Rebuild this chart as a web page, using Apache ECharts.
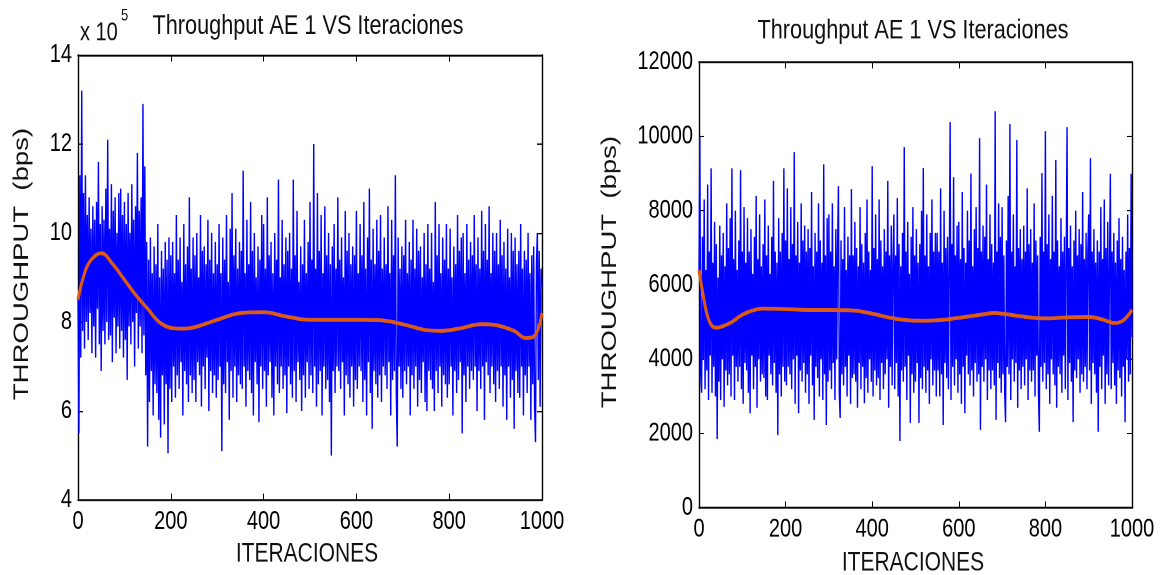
<!DOCTYPE html>
<html>
<head>
<meta charset="utf-8">
<script src="https://cdn.jsdelivr.net/npm/echarts@6/dist/echarts.min.js"></script>
<style>
  html, body { margin: 0; padding: 0; background: #fff; width: 1160px; height: 575px; overflow: hidden; position: relative; }
  /* the figure is laid out on a shorter canvas and stretched vertically */
  #wrap { position: absolute; left: 0; top: 0; width: 1160px; height: 449px; transform: scaleY(1.2806); transform-origin: 0 0; }
</style>
</head>
<body>
<div id="wrap"></div>
<script>
// Sampling step of the throughput traces (iterations between samples)
const STEP = 2;

// Left panel: throughput in units of 1e5 bps, 25 samples (50 iterations) per row
const throughputL = [
  8.5, 5.5, 11.3, 7.2, 13.2, 7.8, 10.9, 7.4, 11.3, 8.0, 10.4, 7.6, 10.8, 8.2, 10.1, 7.3, 10.6, 7.9, 10.3, 7.2, 10.7, 8.3, 11.6, 7.5, 10.2,
  6.9, 10.6, 7.8, 10.3, 7.5, 11.0, 8.0, 12.1, 7.6, 10.1, 7.7, 11.1, 7.1, 10.5, 8.1, 10.8, 7.3, 10.0, 7.9, 10.9, 7.4, 11.0, 7.8, 10.4, 7.2,
  10.7, 7.6, 10.2, 6.7, 10.9, 7.9, 10.0, 7.5, 11.1, 8.0, 10.3, 7.0, 10.6, 8.2, 11.8, 7.4, 10.5, 7.9, 10.8, 7.3, 12.9, 7.7, 11.5, 6.8, 9.8,
  5.2, 9.4, 6.2, 9.9, 6.9, 9.1, 5.9, 9.7, 6.6, 9.3, 6.4, 10.2, 5.8, 9.0, 5.4, 9.6, 6.8, 9.2, 5.7, 9.8, 6.6, 9.4, 5.05, 9.9, 6.5,
  9.5, 6.2, 9.8, 7.0, 9.1, 6.3, 10.4, 6.8, 9.4, 6.5, 9.9, 7.1, 8.9, 5.9, 10.2, 6.9, 9.3, 6.6, 9.7, 6.2, 10.8, 6.8, 9.2, 6.4, 9.9,
  6.7, 9.5, 6.2, 10.0, 7.1, 9.0, 6.8, 10.4, 6.1, 9.6, 7.0, 9.7, 6.5, 9.3, 7.2, 10.3, 6.0, 9.4, 6.9, 10.0, 6.4, 9.1, 6.8, 9.8, 6.3,
  9.3, 6.7, 10.2, 7.0, 9.1, 5.1, 9.9, 6.6, 9.4, 6.4, 10.4, 7.1, 8.9, 5.8, 10.1, 6.9, 10.9, 6.3, 9.5, 7.0, 10.1, 6.2, 9.2, 6.8, 9.8,
  6.6, 9.6, 6.5, 11.4, 7.0, 9.1, 6.1, 10.3, 6.9, 9.3, 6.7, 10.7, 6.4, 9.6, 5.9, 10.0, 7.1, 9.0, 6.6, 9.7, 5.75, 9.4, 7.0, 10.4, 6.5,
  10.2, 6.9, 9.2, 6.1, 10.8, 6.8, 9.5, 7.1, 9.8, 6.3, 9.1, 5.9, 10.0, 7.0, 9.4, 6.6, 11.2, 6.4, 9.0, 7.0, 10.3, 6.5, 9.3, 6.8, 9.9,
  5.95, 9.6, 7.0, 10.0, 6.6, 9.2, 6.3, 11.2, 6.9, 9.5, 6.2, 10.5, 7.1, 8.9, 6.7, 9.7, 6.0, 9.3, 6.8, 10.3, 6.3, 9.1, 7.1, 9.8, 6.5,
  10.7, 6.8, 9.4, 6.4, 12.0, 7.0, 9.2, 6.1, 10.9, 6.6, 9.6, 6.9, 10.4, 5.9, 9.1, 7.0, 10.6, 6.5, 9.5, 6.7, 10.0, 6.2, 9.3, 5.0, 9.7,
  6.9, 10.2, 6.4, 9.2, 7.0, 10.8, 6.9, 9.4, 6.5, 9.9, 7.1, 9.0, 5.9, 10.5, 6.8, 9.6, 6.6, 10.0, 6.3, 9.3, 7.0, 9.7, 6.1, 9.5, 6.7,
  10.5, 6.5, 9.1, 7.0, 10.2, 6.9, 9.5, 6.2, 10.7, 6.7, 9.2, 5.9, 9.9, 7.1, 11.0, 6.4, 9.4, 5.6, 10.1, 6.9, 9.3, 6.6, 10.3, 6.3, 9.6,
  6.8, 10.4, 6.2, 9.2, 7.0, 9.9, 6.8, 9.3, 6.5, 10.6, 7.1, 9.1, 5.9, 10.3, 6.7, 9.5, 6.9, 11.3, 6.4, 5.2, 9.9, 7.0, 9.2, 6.5, 9.7,
  6.3, 9.5, 6.9, 10.3, 6.6, 9.1, 7.0, 9.8, 5.9, 9.4, 6.8, 10.3, 6.5, 9.2, 7.0, 10.1, 6.1, 9.6, 6.7, 9.7, 6.4, 9.0, 7.1, 10.0, 6.2,
  9.3, 6.0, 10.2, 6.9, 9.2, 6.7, 10.0, 6.5, 8.9, 6.0, 10.7, 6.9, 9.5, 6.4, 10.2, 7.0, 9.1, 6.1, 9.9, 6.8, 9.4, 6.6, 10.2, 6.3, 9.2,
  6.6, 10.1, 7.0, 9.0, 5.9, 9.7, 6.9, 9.3, 6.4, 10.4, 6.7, 9.6, 7.1, 9.9, 5.5, 10.0, 6.8, 9.1, 6.2, 10.2, 7.0, 9.4, 6.5, 9.8, 6.9,
  9.5, 6.7, 10.4, 7.0, 9.3, 6.0, 9.9, 6.9, 9.2, 6.5, 10.5, 7.0, 9.6, 5.8, 10.2, 7.1, 9.4, 6.8, 10.6, 6.4, 9.1, 7.0, 10.0, 6.6, 9.6,
  6.2, 10.0, 6.9, 9.3, 6.5, 10.3, 7.0, 9.5, 6.1, 9.8, 6.8, 9.2, 5.8, 10.1, 7.0, 9.0, 6.3, 10.0, 6.7, 9.6, 5.6, 9.9, 6.9, 9.3, 6.4,
  9.6, 6.3, 10.2, 7.0, 9.2, 5.9, 9.6, 6.8, 9.4, 6.4, 10.0, 7.0, 9.1, 5.8, 9.5, 6.6, 9.7, 6.1, 5.3, 9.3, 10.0, 6.7, 9.6, 6.1, 9.2,
  8.8
];

// Left panel: smoothed trend (iteration, 1e5 bps)
const trendIterL = [0, 10, 25, 50, 75, 100, 125, 150, 175, 200, 225, 250, 300, 350, 400, 450, 500, 550, 600, 650, 700, 750, 780, 820, 870, 900, 940, 965, 985, 1000];
const trendL = [8.5, 8.95, 9.35, 9.55, 9.3, 8.95, 8.6, 8.3, 8.0, 7.87, 7.85, 7.88, 8.05, 8.2, 8.22, 8.12, 8.05, 8.05, 8.05, 8.04, 7.95, 7.82, 7.8, 7.85, 7.95, 7.93, 7.8, 7.64, 7.7, 8.2];

// Right panel: throughput in bps, 25 samples (50 iterations) per row
const throughputR = [
  6400, 10000, 3600, 3100, 7300, 4000, 8300, 3200, 6400, 3700, 8700, 2900, 6900, 4100, 9140, 3100, 6600, 3800, 7700, 3000, 7100, 1850, 6200, 3400, 7600,
  2900, 6800, 4000, 7400, 2720, 6500, 3700, 8200, 3300, 7000, 3600, 7800, 3000, 9140, 4100, 6700, 2900, 8000, 3800, 6400, 3400, 7200, 3800, 9090, 3200,
  6900, 2800, 8100, 3900, 6600, 3700, 7800, 3100, 6900, 2550, 7500, 4100, 6300, 3200, 7300, 3800, 8400, 2700, 6700, 4000, 7900, 3400, 6500, 3600, 7100,
  3500, 8300, 3000, 6800, 2900, 7600, 4100, 6300, 3600, 7300, 3300, 8800, 3900, 6900, 3100, 6600, 1960, 7800, 3600, 6900, 3000, 7400, 3800, 9140, 3400,
  7200, 3300, 8600, 3800, 6700, 3600, 8100, 3200, 7100, 4000, 9580, 2800, 6800, 4100, 7700, 2550, 6600, 3700, 8200, 3400, 7200, 3900, 7600, 3100, 6900,
  3600, 7500, 2800, 7000, 4100, 8500, 3300, 6500, 2370, 7400, 3800, 6900, 3500, 8200, 3000, 7200, 4000, 6600, 2900, 9250, 3600, 6800, 2230, 7800, 3400,
  7900, 3700, 6900, 3200, 8200, 3900, 6500, 2900, 7500, 4000, 7000, 8660, 3100, 2420, 7200, 3600, 6700, 3300, 8100, 3800, 6400, 3000, 7300, 4100, 6800,
  2800, 8580, 3500, 6800, 3600, 7700, 3400, 7000, 2700, 6500, 3900, 8100, 3200, 7100, 3800, 6600, 2820, 7400, 3500, 8300, 3100, 6900, 4000, 6400, 3400,
  9200, 3000, 7000, 3700, 7900, 3300, 6700, 3500, 8300, 2900, 7200, 3900, 6500, 3200, 7500, 3600, 6900, 4000, 8800, 2700, 6800, 3800, 7600, 3300, 6600,
  7900, 3200, 6800, 3900, 8340, 3000, 7100, 1800, 6500, 3700, 7400, 3400, 9710, 3800, 6900, 2900, 7700, 4100, 6300, 2290, 7300, 3600, 8100, 3100, 6800,
  3400, 7500, 3900, 6600, 2290, 7100, 3500, 8000, 3200, 9150, 3800, 6800, 3100, 7900, 3700, 6500, 2800, 7400, 4000, 8300, 3300, 6900, 3700, 7400, 3000,
  7400, 3700, 6900, 3000, 8600, 3600, 6600, 2230, 8000, 3900, 7000, 3500, 7300, 3200, 6400, 10380, 2900, 7100, 3800, 8900, 3300, 6800, 4000, 7600, 3100,
  7700, 3600, 6700, 2800, 8500, 3800, 7000, 2550, 6600, 4100, 8000, 3600, 7200, 3300, 9000, 3700, 6500, 3000, 7500, 3900, 8100, 3400, 7000, 3600, 9950,
  2100, 6900, 3800, 7600, 3400, 7300, 4000, 8700, 2900, 6700, 3700, 7900, 3200, 7100, 3700, 6600, 3300, 10680, 2370, 6900, 3900, 8200, 3500, 7300, 3100,
  8100, 3600, 6800, 3100, 2310, 7200, 3800, 8400, 3600, 10330, 2900, 6900, 4000, 7900, 3400, 6500, 3900, 9900, 2700, 7000, 3700, 7500, 3200, 6700, 3800,
  7600, 3300, 6900, 4000, 8600, 2900, 7100, 3700, 7500, 3400, 6600, 3700, 8200, 3000, 7200, 4100, 6800, 3100, 2050, 7300, 3800, 9010, 3400, 6900, 3900,
  10140, 3200, 7100, 3600, 7900, 2800, 6700, 4000, 8400, 3600, 6900, 3300, 9360, 2700, 7200, 3800, 6500, 3600, 7800, 3100, 6900, 4100, 7300, 3200, 6600,
  10250, 2900, 7000, 3900, 7600, 3400, 6500, 2310, 7200, 3700, 8000, 3500, 6800, 4000, 7500, 3100, 7100, 3600, 8500, 3400, 6700, 3800, 7400, 3200, 6900,
  7900, 3700, 9410, 2800, 6900, 3900, 7500, 3600, 6600, 3100, 7200, 2050, 6900, 3800, 8100, 3200, 6700, 4100, 8300, 2800, 7000, 3600, 7700, 3300, 6500,
  8990, 3200, 6900, 3900, 7400, 3300, 6600, 2800, 7200, 3700, 7800, 3500, 6700, 3000, 7300, 3800, 6400, 2310, 6900, 4000, 7900, 3400, 7000, 3600, 8990,
  4600
];

// Right panel: smoothed trend (iteration, bps)
const trendIterR = [0, 10, 20, 30, 40, 50, 75, 100, 125, 150, 200, 250, 300, 350, 400, 450, 500, 550, 600, 650, 680, 700, 750, 800, 850, 900, 930, 960, 980, 1000];
const trendR = [6400, 5700, 5150, 4900, 4850, 4870, 5000, 5200, 5320, 5370, 5350, 5330, 5330, 5320, 5230, 5100, 5040, 5050, 5120, 5200, 5250, 5230, 5150, 5100, 5130, 5140, 5080, 4980, 5050, 5330];

const xTicks = { min: 0, max: 1000, interval: 200 };
const yTicksL = { min: 4, max: 14, interval: 2 };
const yTicksR = { min: 0, max: 12000, interval: 2000 };

const FONT = "'Liberation Sans', Arial, Helvetica, sans-serif";
const INK = '#000';
const S = 575 / 449;          // vertical stretch applied by CSS
const sy = v => v / S;        // convert a final pixel row to layout units

const pairs = (xs, ys) => ys.map((v, i) => [xs[i], v]);
const sampled = ys => ys.map((v, i) => [i * STEP, v]);

function axisPair(gridIndex, range, isX) {
  const base = {
    type: 'value', gridIndex,
    min: range.min, max: range.max, interval: range.interval,
    axisLine: { show: true, onZero: false, lineStyle: { color: INK, width: 1.4 } },
    axisTick: { show: true, inside: true, length: 5, lineStyle: { color: INK, width: 1 } },
    splitLine: { show: false }
  };
  const main = Object.assign({}, base, {
    position: isX ? 'bottom' : 'left',
    axisLabel: { color: INK, fontSize: 20, fontFamily: FONT, margin: isX ? 7 : 6, formatter: v => String(v) }
  });
  const mirror = Object.assign({}, base, {
    position: isX ? 'top' : 'right',
    axisLabel: { show: false }
  });
  return [main, mirror];
}

function txt(text, x, y, size, extra) {
  return Object.assign({
    type: 'text', x, y, silent: true,
    style: { text, fill: '#111', font: size + 'px ' + FONT, textAlign: 'center', textVerticalAlign: 'middle' }
  }, extra || {});
}
function txtLeft(text, x, y, size) {
  const t = txt(text, x, y, size);
  t.style.textAlign = 'left';
  return t;
}

const chart = echarts.init(document.getElementById('wrap'), null, { renderer: 'canvas', devicePixelRatio: 2 });

chart.setOption({
  animation: false,
  backgroundColor: '#fff',
  grid: [
    { left: 78, width: 464, top: sy(55), height: sy(500) - sy(55) },
    { left: 699, width: 433, top: sy(62), height: sy(508) - sy(62) }
  ],
  xAxis: [...axisPair(0, xTicks, true), ...axisPair(1, xTicks, true)],
  yAxis: [...axisPair(0, yTicksL, false), ...axisPair(1, yTicksR, false)],
  series: [
    { type: 'line', xAxisIndex: 0, yAxisIndex: 0, data: sampled(throughputL), showSymbol: false,
      lineStyle: { color: '#0000ff', width: 1.4 }, z: 2 },
    { type: 'line', xAxisIndex: 0, yAxisIndex: 0, data: pairs(trendIterL, trendL), showSymbol: false, smooth: 0.4,
      lineStyle: { color: '#dd5a12', width: 3 }, z: 3 },
    { type: 'line', xAxisIndex: 2, yAxisIndex: 2, data: sampled(throughputR), showSymbol: false,
      lineStyle: { color: '#0000ff', width: 1.4 }, z: 2 },
    { type: 'line', xAxisIndex: 2, yAxisIndex: 2, data: pairs(trendIterR, trendR), showSymbol: false, smooth: 0.4,
      lineStyle: { color: '#dd5a12', width: 3 }, z: 3 }
  ],
  graphic: [
    txt('Throughput AE 1 VS Iteraciones', 308, sy(26), 21.7),
    txt('Throughput AE 1 VS Iteraciones', 913, sy(31), 21.7),
    txtLeft('x 10', 80, sy(33), 20),
    txtLeft('5', 121, sy(16), 13),
    txt('ITERACIONES', 307, sy(554), 21),
    txt('ITERACIONES', 913, sy(563), 21),
    txt('THROUGHPUT  (bps)', 22, sy(264), 21.5, { rotation: Math.PI / 2 }),
    txt('THROUGHPUT  (bps)', 610, sy(272), 21.5, { rotation: Math.PI / 2 })
  ]
});
</script>
</body>
</html>
